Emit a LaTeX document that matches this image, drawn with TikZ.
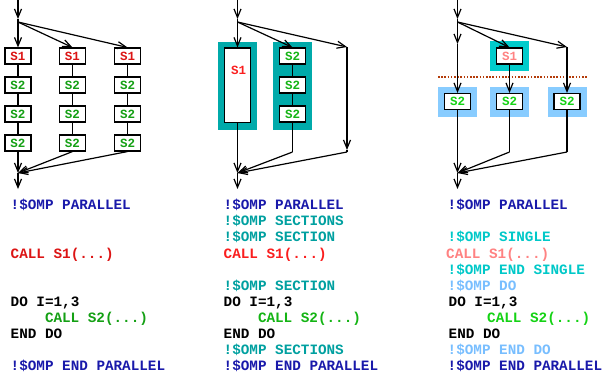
\documentclass[tikz,border=0pt]{standalone}
\usepackage{fontspec}
\setmonofont{Liberation Mono}
\usetikzlibrary{arrows.meta}

% colours
\definecolor{ompblue}{RGB}{25,25,170}
\definecolor{secteal}{RGB}{0,160,160}
\definecolor{secbox}{RGB}{0,170,170}
\definecolor{singcyan}{RGB}{0,200,200}
\definecolor{singbox}{RGB}{0,204,204}
\definecolor{doblue}{RGB}{120,190,255}
\definecolor{dobox}{RGB}{136,204,255}
\definecolor{redA}{RGB}{220,20,20}
\definecolor{redB}{RGB}{250,30,30}
\definecolor{pinkC}{RGB}{255,130,130}
\definecolor{greenA}{RGB}{20,160,20}
\definecolor{greenB}{RGB}{20,180,20}
\definecolor{greenC}{RGB}{20,210,20}
\definecolor{barrier}{RGB}{180,60,10}

\tikzset{
  arr/.style={-{Straight Barb[length=8.5pt,width=7pt]}},
  conn/.style={line width=1.2pt, black},
  task/.style={draw, fill=white, line width=1.1pt, minimum width=26pt,
    minimum height=16pt, inner sep=0pt,
    font=\fontsize{12.5}{12.5}\selectfont\ttfamily\bfseries},
  code/.style={anchor=base west, inner sep=0pt,
    font=\fontsize{14.3}{14.3}\selectfont\ttfamily\bfseries},
}

\begin{document}
\begin{tikzpicture}[x=1pt,y=-1pt]
\useasboundingbox (0,0) rectangle (602,376);

% ---------------- left: plain parallel region ----------------
\coordinate (t1) at (18,0);
\coordinate (t1a) at (18,19);
\coordinate (f1) at (18,22);
\coordinate (j1) at (18,173);
\coordinate (e1) at (18,189);
\foreach \c/\x in {A/18,B/72.5,C/127.5}{
  \node[task, text=redA] (\c1) at (\x,56) {S1};
  \node[task, text=greenA] (\c2) at (\x,85) {S2};
  \node[task, text=greenA] (\c3) at (\x,114) {S2};
  \node[task, text=greenA] (\c4) at (\x,143) {S2};
  \draw[conn] (\c1.south) -- (\c2.north);
  \draw[conn] (\c2.south) -- (\c3.north);
  \draw[conn] (\c3.south) -- (\c4.north);
  \draw[conn,arr] (f1) -- (\c1.north);
  \draw[conn,arr] (\c4.south) -- (j1);
}
\draw[conn,arr] (t1) -- (t1a);
\draw[conn] (t1a) -- (f1);
\draw[conn,arr] (j1) -- (e1);

% ---------------- middle: sections ----------------
\fill[secbox] (218,42) rectangle (257,130);
\fill[secbox] (273,42) rectangle (312,130);
\coordinate (t2) at (237.5,0);
\coordinate (t2a) at (237.5,19);
\coordinate (f2) at (237.5,22);
\coordinate (j2) at (237.5,173);
\coordinate (e2) at (237.5,189);
\coordinate (r2a) at (347,47);
\coordinate (r2b) at (347,150);
\coordinate (r2c) at (347,152);
\coordinate (m2) at (292.5,152);
\node[task, minimum height=74.5pt] (P1) at (237.5,85.25) {};
\node[inner sep=0pt, text=redB,
  font=\fontsize{12.5}{12.5}\selectfont\ttfamily\bfseries] (P1l) at (238.5,70) {S1};
\node[task, text=greenB] (Q1) at (292.5,56) {S2};
\node[task, text=greenB] (Q2) at (292.5,85) {S2};
\node[task, text=greenB] (Q3) at (292.5,114) {S2};
\draw[conn] (Q1.south) -- (Q2.north);
\draw[conn] (Q2.south) -- (Q3.north);
\draw[conn,arr] (t2) -- (t2a);
\draw[conn] (t2a) -- (f2);
\draw[conn,arr] (f2) -- (P1.north);
\draw[conn,arr] (f2) -- (Q1.north);
\draw[conn,arr] (f2) -- (r2a);
\draw[conn,arr] (r2a) -- (r2b);
\draw[conn] (r2b) -- (r2c);
\draw[conn,arr] (r2c) -- (j2);
\draw[conn] (Q3.south) -- (m2);
\draw[conn,arr] (m2) -- (j2);
\draw[conn,arr] (P1.south) -- (j2);
\draw[conn,arr] (j2) -- (e2);

% ---------------- right: single + do ----------------
\fill[singbox] (490,41) rectangle (529,71);
\fill[dobox] (438,87) rectangle (477,117);
\fill[dobox] (490,87) rectangle (529,117);
\fill[dobox] (548,87) rectangle (587,117);
\draw[barrier, line width=1.3pt, dash pattern=on 1.6pt off 1.6pt] (438,77) -- (587,77);
\coordinate (t3) at (457.5,0);
\coordinate (t3a) at (457.5,19);
\coordinate (f3) at (457.5,22);
\coordinate (l3) at (457.5,44);
\coordinate (j3) at (457.5,173);
\coordinate (e3) at (457.5,189);
\coordinate (r3a) at (567,47);
\coordinate (m3) at (509.5,152);
\coordinate (r3b) at (567,152);
\node[task, text=pinkC] (S1) at (509.5,56) {S1};
\node[task, text=greenC] (U1) at (457.5,101.5) {S2};
\node[task, text=greenC] (U2) at (509.5,101.5) {S2};
\node[task, text=greenC] (U3) at (567,101.5) {S2};
\draw[conn,arr] (t3) -- (t3a);
\draw[conn] (t3a) -- (f3);
\draw[conn,arr] (f3) -- (l3);
\draw[conn,arr] (l3) -- (U1.north);
\draw[conn,arr] (f3) -- (S1.north);
\draw[conn,arr] (S1.south) -- (U2.north);
\draw[conn,arr] (f3) -- (r3a);
\draw[conn,arr] (r3a) -- (U3.north);
\draw[conn,arr] (U1.south) -- (j3);
\draw[conn] (U2.south) -- (m3);
\draw[conn,arr] (m3) -- (j3);
\draw[conn] (U3.south) -- (r3b);
\draw[conn,arr] (r3b) -- (j3);
\draw[conn,arr] (j3) -- (e3);

% ---------------- source listings ----------------
% left
\node[code, text=ompblue] (a1) at (10.5,209.7) {!\$OMP PARALLEL};
\node[code, text=redA] (a4) at (10.5,258.0) {CALL S1(...)};
\node[code, text=black] (a7) at (10.5,306.3) {DO I=1,3};
\node[code, text=greenA] (a8) at (44.8,322.4) {CALL S2(...)};
\node[code, text=black] (a9) at (10.5,338.5) {END DO};
\node[code, text=ompblue] (a11) at (10.5,370.7) {!\$OMP END PARALLEL};
% middle
\node[code, text=ompblue] (b1) at (223.5,209.7) {!\$OMP PARALLEL};
\node[code, text=secteal] (b2) at (223.5,225.8) {!\$OMP SECTIONS};
\node[code, text=secteal] (b3) at (223.5,241.9) {!\$OMP SECTION};
\node[code, text=redB] (b4) at (223.5,258.0) {CALL S1(...)};
\node[code, text=secteal] (b6) at (223.5,290.2) {!\$OMP SECTION};
\node[code, text=black] (b7) at (223.5,306.3) {DO I=1,3};
\node[code, text=greenB] (b8) at (257.8,322.4) {CALL S2(...)};
\node[code, text=black] (b9) at (223.5,338.5) {END DO};
\node[code, text=secteal] (b10) at (223.5,354.6) {!\$OMP SECTIONS};
\node[code, text=ompblue] (b11) at (223.5,370.7) {!\$OMP END PARALLEL};
% right
\node[code, text=ompblue] (c1) at (447.5,209.7) {!\$OMP PARALLEL};
\node[code, text=singcyan] (c3) at (447.5,241.9) {!\$OMP SINGLE};
\node[code, text=pinkC] (c4) at (446,258.0) {CALL S1(...)};
\node[code, text=singcyan] (c5) at (447.5,274.1) {!\$OMP END SINGLE};
\node[code, text=doblue] (c6) at (447.5,290.2) {!\$OMP DO};
\node[code, text=black] (c7) at (448.5,306.3) {DO I=1,3};
\node[code, text=greenC] (c8) at (487,322.4) {CALL S2(...)};
\node[code, text=black] (c9) at (448.5,338.5) {END DO};
\node[code, text=doblue] (c10) at (447.5,354.6) {!\$OMP END DO};
\node[code, text=ompblue] (c11) at (447.5,370.7) {!\$OMP END PARALLEL};
\end{tikzpicture}
\end{document}
